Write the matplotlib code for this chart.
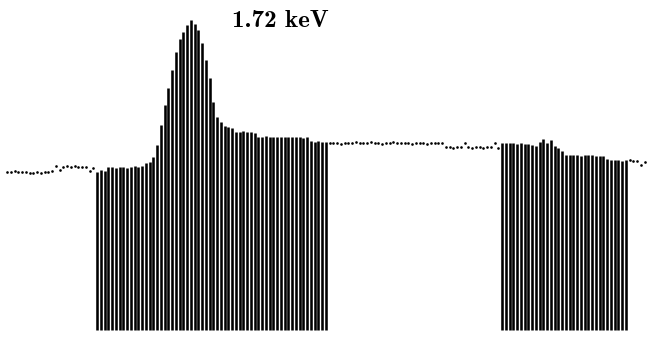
import numpy as np
import matplotlib
matplotlib.use("Agg")
import matplotlib.pyplot as plt

# counts per channel (floor of the bars = 0)
left_bg = [158, 158, 159, 158, 158, 158, 157, 157, 158, 157, 158, 158,
           159, 164, 160, 163, 164, 163, 164, 163, 163, 163, 159, 162]
peak_roi = [158, 160, 159, 163, 163, 162, 163, 163, 162, 163, 164, 163,
            164, 167, 168, 173, 185, 205, 225, 242, 260, 278, 291, 298,
            305, 310, 306, 300, 287, 270, 252, 228, 213, 208, 204, 203,
            202, 198, 198, 199, 198, 198, 197, 193, 193, 194, 193, 193,
            193, 193, 193, 193, 193, 193, 193, 192, 193, 189, 188, 189,
            188, 188]
middle_bg = [187, 187, 187, 186, 187, 187, 187, 188, 187, 187, 187, 188,
             187, 187, 186, 187, 187, 188, 187, 187, 187, 187, 186, 187,
             187, 187, 186, 187, 187, 187, 187, 183, 183, 182, 183, 183,
             187, 183, 182, 183, 183, 182, 183, 183, 187, 182]
second_roi = [187, 187, 187, 187, 186, 187, 186, 186, 185, 184, 188, 191,
              187, 190, 184, 182, 179, 175, 175, 175, 175, 174, 175, 175,
              175, 174, 174, 174, 171, 170, 170, 170, 169, 170]
right_bg = [170, 169, 169, 165, 168]

label = "1.72 keV"


def main():
    counts = np.array(left_bg + peak_roi + middle_bg + second_roi + right_bg)
    chan = np.arange(len(counts))

    # which channels are inside the regions of interest
    n1 = len(left_bg)
    n2 = n1 + len(peak_roi)
    n3 = n2 + len(middle_bg)
    n4 = n3 + len(second_roi)
    in_roi = np.zeros(len(counts), dtype=bool)
    in_roi[n1:n2] = True
    in_roi[n3:n4] = True

    fig = plt.figure(figsize=(6.51, 3.40), dpi=100)
    ax = fig.add_axes([0, 0, 1, 1])

    ax.vlines(chan[in_roi], 0, counts[in_roi], color="black", linewidth=1.85)
    ax.plot(chan[~in_roi], counts[~in_roi], linestyle="none", marker="o",
            markersize=1.9, color="black", markeredgewidth=0)

    # channel i sits at pixel 7 + 3.75*i
    ax.set_xlim(-7 / 3.75, (651 - 7) / 3.75)
    ax.set_ylim(-10, 330)
    ax.axis("off")

    fig.text(232 / 651, 1 - 27 / 340, label, fontsize=18,
             family=["cmb10", "DejaVu Serif"], fontweight="bold",
             ha="left", va="baseline")

    fig.savefig("out.png", dpi=100)


if __name__ == "__main__":
    main()
